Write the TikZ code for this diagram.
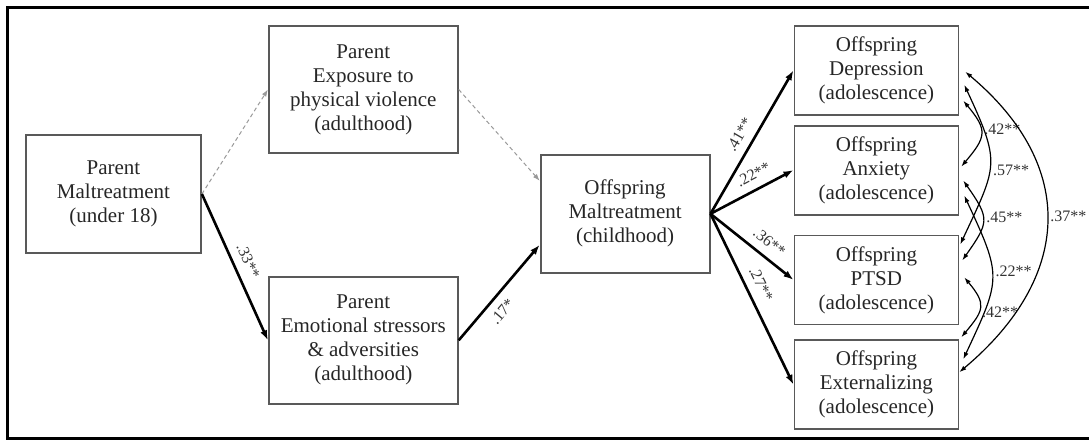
\documentclass[tikz,border=0pt]{standalone}
\usepackage{fontspec}
\setmainfont{Liberation Serif}
\usetikzlibrary{positioning,arrows.meta}

\tikzset{
	box/.style={draw=black!65, line width=0.9pt, align=center, text=black!85, font=\fontsize{10.5}{12}\selectfont, inner sep=2pt},
	parent/.style={box, minimum width=94.5pt, minimum height=63.5pt},
	outcome/.style={box, minimum width=82pt, minimum height=44.5pt},
	effect/.style={line width=1.3pt, -{Latex[length=5pt,width=3.6pt]}},
	nseffect/.style={black!40, line width=0.5pt, dash pattern=on 2pt off 1.5pt, -{Latex[length=3.5pt,width=2.5pt]}},
	covar/.style={line width=0.6pt, {Latex[length=3.5pt,width=2.4pt]}-{Latex[length=3.5pt,width=2.4pt]}},
	coef/.style={font=\fontsize{8}{9}\selectfont, text=black!80, inner sep=1.5pt},
}

\begin{document}
\begin{tikzpicture}
	\useasboundingbox (0,0) rectangle (544.5pt,-220pt);
	% Frame
	\draw[line width=1.5pt] (544.5pt,-3.5pt) -- (3.5pt,-3.5pt) -- (3.5pt,-219pt) -- (544.5pt,-219pt);

	% Nodes
	% Parent maltreatment
	\node[box, minimum width=87.5pt, minimum height=59pt] (pm) at (56.75pt,-97pt) {Parent\\Maltreatment\\(under 18)};
	% Parent adulthood mediators
	\node[parent, right=33pt of pm, yshift=52.25pt] (exp) {Parent\\Exposure to\\physical violence\\(adulthood)};
	\node[parent, below=61pt of exp] (emo) {Parent\\Emotional stressors\\\& adversities\\(adulthood)};
	% Offspring maltreatment
	\node[box, minimum width=84.5pt, minimum height=59pt, right=40.5pt of emo, yshift=63.25pt] (om) {Offspring\\Maltreatment\\(childhood)};
	% Offspring outcomes
	\node[outcome, right=41.5pt of om, yshift=71.75pt] (dep) {Offspring\\Depression\\(adolescence)};
	\node[outcome, below=4.5pt of dep] (anx) {Offspring\\Anxiety\\(adolescence)};
	\node[outcome, below=9.5pt of anx] (ptsd) {Offspring\\PTSD\\(adolescence)};
	\node[outcome, below=7pt of ptsd] (ext) {Offspring\\Externalizing\\(adolescence)};

	% Edges
	% Parent maltreatment to mediators
	\draw[nseffect] (pm.east) -- (exp.west);
	\draw[effect] (pm.east) -- node[coef, sloped, above=2.5pt, pos=0.5] {.33**} (emo.west);
	% Mediators to offspring maltreatment
	\draw[nseffect] (exp.east) -- ([yshift=16.5pt]om.west);
	\draw[effect] (emo.east) -- node[coef, sloped, below=2.5pt, pos=0.4] {.17*} ([yshift=-15.5pt]om.west);
	% Offspring maltreatment to outcomes
	\draw[effect] (om.east) -- node[coef, sloped, above=2.5pt, pos=0.5] {.41**} (dep.west);
	\draw[effect] (om.east) -- node[coef, sloped, above=2.5pt, pos=0.6] {.22**} (anx.west);
	\draw[effect] (om.east) -- node[coef, sloped, above=2.5pt, pos=0.6] {.36**} (ptsd.west);
	\draw[effect] (om.east) -- node[coef, sloped, above=2.5pt, pos=0.45] {.27**} (ext.west);

	% Covariances between outcomes
	\draw[covar] ([xshift=2pt,yshift=-15.25pt]dep.east) to[out=-50, in=50, looseness=1.5] node[coef, pos=0.42, right] {.42**} ([xshift=1pt,yshift=1.75pt]anx.east);
	\draw[covar] ([xshift=2.5pt,yshift=-7.25pt]dep.east) to[out=-65, in=65, looseness=1.4] node[coef, pos=0.55, right] {.57**} ([xshift=0.5pt,yshift=17.75pt]ptsd.east);
	\draw[covar] ([xshift=2pt,yshift=-5.25pt]anx.east) to[out=-55, in=55, looseness=1.5] node[coef, pos=0.45, right] {.45**} ([xshift=1.5pt,yshift=9.75pt]ptsd.east);
	\draw[covar] ([xshift=2.5pt,yshift=-12.75pt]anx.east) to[out=-65, in=65, looseness=1.4] node[coef, pos=0.45, right] {.22**} ([xshift=2pt,yshift=12.75pt]ext.east);
	\draw[covar] ([xshift=2.5pt,yshift=1.25pt]ptsd.east) to[out=-50, in=50, looseness=1.5] node[coef, pos=0.6, right] {.42**} ([xshift=1pt,yshift=23.75pt]ext.east);
	\draw[covar] ([xshift=3pt,yshift=-0.75pt]dep.east) to[out=-40, in=40, looseness=1.25] node[coef, pos=0.48, right] {.37**} ([yshift=6.25pt]ext.east);
\end{tikzpicture}
\end{document}
